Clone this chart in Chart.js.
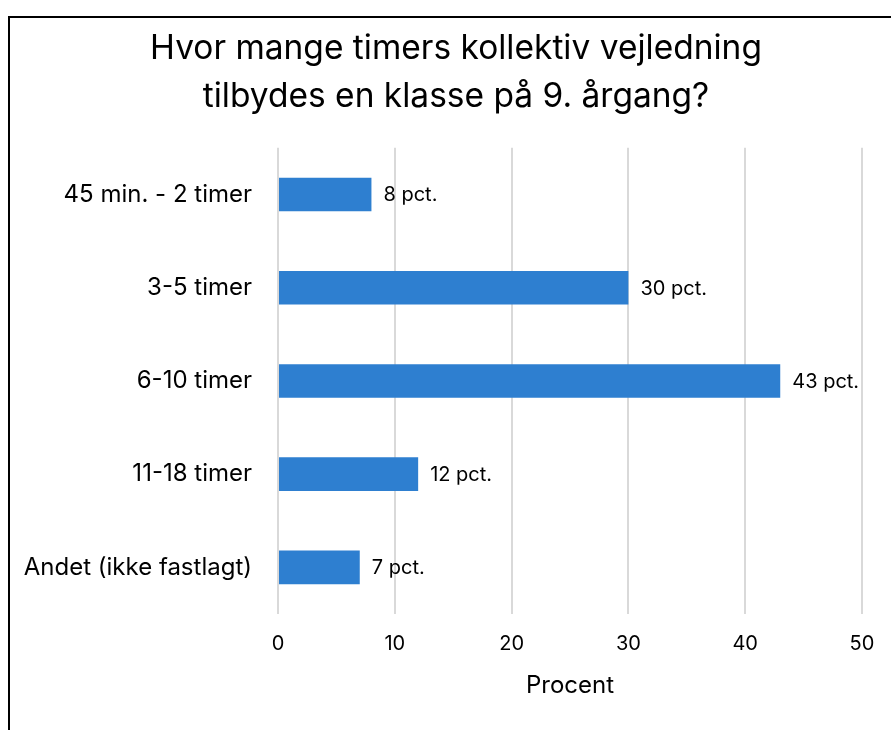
<!DOCTYPE html>
<html>
<head>
<meta charset="utf-8">
<script src="https://cdn.jsdelivr.net/npm/chart.js@4/dist/chart.umd.min.js"></script>
<style>
  html, body { margin: 0; padding: 0; background: #fff; overflow: hidden; width: 891px; height: 730px; }
  #box { position: absolute; left: 8px; top: 16px; width: 900px; height: 730px; border-left: 2px solid #000; border-top: 2px solid #000; }
  #wrap { position: absolute; left: 10px; top: 18px; width: 892px; height: 712px; }
</style>
</head>
<body>
<div id="box"></div>
<div id="wrap"><canvas id="chart"></canvas></div>
<script>
var categories = ["45 min. - 2 timer", "3-5 timer", "6-10 timer", "11-18 timer", "Andet (ikke fastlagt)"];
var values = [8, 30, 43, 12, 7];
var titleLines = ["Hvor mange timers kollektiv vejledning", "tilbydes en klasse på 9. årgang?"];
var axisTitle = "Procent";

var fontFamily = "Inter, 'Open Sans', sans-serif";
const ctx = document.getElementById("chart").getContext("2d");

// draws "NN pct." next to each bar end
const valueLabels = {
  id: "valueLabels",
  afterDatasetsDraw(chart) {
    const c = chart.ctx;
    const meta = chart.getDatasetMeta(0);
    c.save();
    c.font = "20px " + fontFamily;
    c.fillStyle = "#000";
    c.textBaseline = "middle";
    c.textAlign = "left";
    meta.data.forEach((bar, i) => {
      c.fillText(values[i] + " pct.", bar.x + 12, bar.y + 1);
    });
    c.restore();
  },
};

// centre the title over the whole frame, not the padded box
const shiftTitle = {
  id: "shiftTitle",
  afterLayout(chart) {
    if (chart.titleBlock) chart.titleBlock.left = 40;
  },
};

const config = {
  type: "bar",
  data: {
    labels: categories,
    datasets: [
      {
        data: values,
        backgroundColor: "#2E7FD0",
        borderWidth: 0,
        categoryPercentage: 0.36,
        barPercentage: 1,
      },
    ],
  },
  options: {
    indexAxis: "y",
    responsive: true,
    maintainAspectRatio: false,
    animation: false,
    layout: { padding: { left: 0, right: 40, top: 0, bottom: 30 } },
    plugins: {
      legend: { display: false },
      tooltip: { enabled: false },
      title: {
        display: true,
        text: titleLines,
        color: "#000",
        font: { family: fontFamily, size: 33.5, weight: "normal", lineHeight: 1.46 },
        padding: { top: 6, bottom: 26 },
      },
    },
    scales: {
      x: {
        min: 0,
        max: 50,
        ticks: {
          stepSize: 10,
          color: "#000",
          padding: 18,
          font: { family: fontFamily, size: 20 },
        },
        grid: { color: "#d9d9d9", lineWidth: 2, drawTicks: false },
        border: { display: false },
        title: {
          display: true,
          text: axisTitle,
          color: "#000",
          font: { family: fontFamily, size: 24 },
          padding: { top: 0, bottom: 0 },
        },
        afterFit(scale) {
          scale.height = 86;
        },
      },
      y: {
        ticks: {
          color: "#000",
          padding: 26,
          font: { family: fontFamily, size: 24 },
        },
        grid: { display: false, drawTicks: false },
        border: { display: false },
        afterFit(scale) {
          scale.width = 268;
        },
      },
    },
  },
  plugins: [valueLabels, shiftTitle],
};

var chart = new Chart(ctx, config);
</script>
</body>
</html>
